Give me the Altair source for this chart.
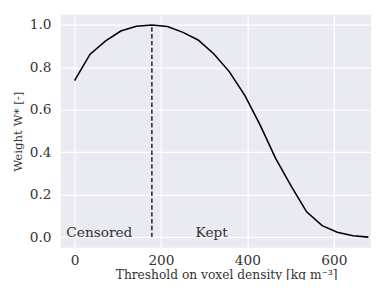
import altair as alt
import pandas as pd

thresholds = [0, 36, 72, 107, 143, 179, 215, 251, 286, 322, 358, 394, 429, 465, 501, 537, 573, 608, 644, 680]
weights = [0.737, 0.862, 0.925, 0.971, 0.994, 1.0, 0.993, 0.965, 0.929, 0.864, 0.78, 0.668, 0.53, 0.372, 0.241, 0.119, 0.054, 0.023, 0.006, 0.0]
cut_value = 179
label_texts = ["Censored", "Kept"]
label_x = [-19, 280]
label_y = [0.0, 0.0]

df = pd.DataFrame({"x": thresholds, "w": weights})
df_rule = pd.DataFrame({"x": [cut_value], "y0": [0.0], "y1": [1.0]})
df_txt = pd.DataFrame({"t": label_texts, "x": label_x, "y": label_y})

FONT = "DejaVu Serif"
TXT = "#333333"

xscale = alt.Scale(domain=[-31.7, 686], nice=False, zero=False)
yscale = alt.Scale(domain=[-0.05, 1.0475], nice=False, zero=False)

xaxis = alt.Axis(values=[0, 200, 400, 600], title="Threshold on voxel density [kg m⁻³]",
                 titleFontSize=12.5, titlePadding=1, titleX=169, labelPadding=6)
yaxis = alt.Axis(values=[0, 0.2, 0.4, 0.6, 0.8, 1.0], format=".1f", title="Weight W* [-]",
                 titleFontSize=12, titlePadding=5, labelPadding=10)

line = alt.Chart(df).mark_line(color="black", strokeWidth=1.6, clip=True).encode(
    x=alt.X("x:Q", scale=xscale, axis=xaxis),
    y=alt.Y("w:Q", scale=yscale, axis=yaxis),
)

rule = alt.Chart(df_rule).mark_rule(color="black", strokeWidth=1.3, strokeDash=[4.5, 2.5]).encode(
    x=alt.X("x:Q", scale=xscale),
    y=alt.Y("y0:Q", scale=yscale),
    y2="y1:Q",
)

text = alt.Chart(df_txt).mark_text(align="left", baseline="alphabetic", font=FONT,
                                   fontSize=14, color=TXT).encode(
    x=alt.X("x:Q", scale=xscale),
    y=alt.Y("y:Q", scale=yscale),
    text="t:N",
)

chart = (line + rule + text).properties(
    width=317, height=238,
    autosize=alt.AutoSizeParams(type="none"),
    padding={"left": 54, "top": 4, "right": 0, "bottom": 30},
    background="white",
).configure_view(
    fill="#EAEAF2", stroke=None,
).configure_axis(
    labelFont=FONT, titleFont=FONT, labelFontSize=14, labelColor=TXT, titleColor=TXT,
    titleFontWeight="normal", tickSize=0, domain=False, grid=True, gridColor="white",
    gridWidth=1.2, gridOpacity=1,
)

chart.save("out.html", embed_options={"renderer": "svg", "actions": False})
